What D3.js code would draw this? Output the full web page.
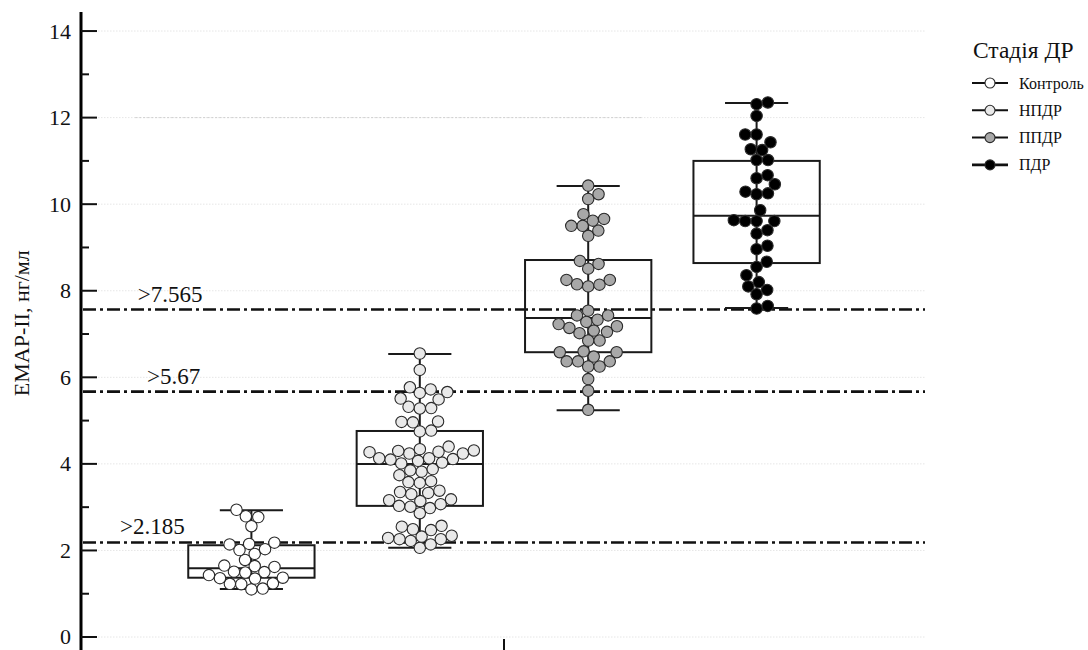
<!DOCTYPE html>
<html>
<head>
<meta charset="utf-8">
<script src="https://cdn.jsdelivr.net/npm/d3@7"></script>
<style>
  body { margin: 0; background: #fff; }
  svg { display: block; }
  svg text { font-family: "Times New Roman", "Liberation Serif"; }
</style>
</head>
<body>
<svg id="chart" width="1088" height="650" style="font-family: 'Times New Roman', 'Liberation Serif';"></svg>
<script>
// Stages of diabetic retinopathy
const stages = ["Контроль", "НПДР", "ППДР", "ПДР"];
const stageFill = ["#ffffff", "#e9e9e9", "#a8a8a8", "#000000"];

// EMAP-II per patient, ng/ml
const control = [2.94, 2.79, 2.77, 2.56, 2.18, 2.15, 2.14, 2.03, 2.01, 1.92, 1.78, 1.65, 1.64,
  1.62, 1.51, 1.50, 1.49, 1.43, 1.37, 1.36, 1.35, 1.24, 1.23, 1.22, 1.12, 1.10];
const npdr = [6.55, 6.17, 5.77, 5.72, 5.66, 5.64, 5.51, 5.49, 5.32, 5.29, 5.28, 4.98, 4.97, 4.96,
  4.77, 4.75, 4.40, 4.34, 4.31, 4.30, 4.28, 4.27, 4.24, 4.24, 4.13, 4.13, 4.11, 4.10, 4.07, 4.03,
  4.01, 3.88, 3.85, 3.82, 3.74, 3.60, 3.58, 3.56, 3.38, 3.35, 3.33, 3.30, 3.18, 3.16, 3.14, 3.07,
  3.03, 3.01, 2.98, 2.86, 2.57, 2.55, 2.49, 2.47, 2.34, 2.32, 2.29, 2.26, 2.26, 2.22, 2.14, 2.06];
const ppdr = [10.43, 10.23, 10.12, 9.77, 9.66, 9.62, 9.50, 9.50, 9.39, 9.27, 8.69, 8.62, 8.51,
  8.25, 8.25, 8.15, 8.14, 8.10, 7.54, 7.43, 7.43, 7.33, 7.28, 7.23, 7.18, 7.14, 7.08, 7.05, 7.02,
  6.85, 6.85, 6.60, 6.58, 6.58, 6.48, 6.37, 6.37, 6.37, 6.25, 6.25, 5.96, 5.69, 5.25];
const pdr = [12.35, 12.31, 12.04, 11.61, 11.61, 11.43, 11.27, 11.25, 11.02, 11.02, 10.67, 10.60,
  10.46, 10.29, 10.25, 10.23, 9.86, 9.63, 9.61, 9.61, 9.61, 9.40, 9.32, 9.04, 8.96, 8.67, 8.55,
  8.36, 8.20, 8.10, 8.02, 7.92, 7.65, 7.59];
const stageValues = [control, npdr, ppdr, pdr];

// Box statistics: whisker low, Q1, median, Q3, whisker high
const whiskerLow = [1.11, 2.06, 5.24, 7.60];
const q1 = [1.37, 3.03, 6.58, 8.64];
const median = [1.59, 4.00, 7.37, 9.73];
const q3 = [2.12, 4.76, 8.71, 11.00];
const whiskerHigh = [2.93, 6.54, 10.42, 12.34];

// Cut-off values
const cutoffs = [7.565, 5.67, 2.185];
const cutoffLabels = [">7.565", ">5.67", ">2.185"];
const cutoffLabelX = [-0.435, -0.424, -0.456];

const yTicks = [0, 2, 4, 6, 8, 10, 12, 14];
const yMinorTicks = [1, 3, 5, 7, 9, 11, 13];

const svg = d3.select("#chart");
const ink = "#111";
const serifFace = "\"Times New Roman\", \"Liberation Serif\"";
const label = sel => sel.style("font-family", serifFace).attr("fill", ink);

const x = d3.scaleLinear().domain([-0.5, 0.5]).range([83, 925]);
const y = d3.scaleLinear().domain([-0.3, 14.44]).range([650, 12]);
const hue = d3.scaleBand().domain(stages).range([x(-0.4), x(0.4)]);
const center = s => hue(s) + hue.bandwidth() / 2;
const boxW = hue.bandwidth() * 0.75;
const capW = hue.bandwidth() * 0.375;

// light dotted grid
svg.append("g").selectAll("line").data(yTicks).join("line")
  .attr("x1", x(-0.5)).attr("x2", x(0.5))
  .attr("y1", d => y(d)).attr("y2", d => y(d))
  .attr("stroke", "#e6e6e6").attr("stroke-width", 1).attr("stroke-dasharray", "1.5,1.5");
svg.append("line")
  .attr("x1", x(-0.438)).attr("x2", x(0.165))
  .attr("y1", y(12)).attr("y2", y(12))
  .attr("stroke", "#cfcfcf").attr("stroke-width", 1).attr("stroke-dasharray", "2,2");

// cut-off lines
svg.append("g").selectAll("line").data(cutoffs).join("line")
  .attr("x1", x(-0.5)).attr("x2", x(0.5))
  .attr("y1", d => y(d)).attr("y2", d => y(d))
  .attr("stroke", ink).attr("stroke-width", 2.6).attr("stroke-dasharray", "13,4,3,4");
svg.append("g").selectAll("text").data(cutoffs).join("text")
  .attr("x", (d, i) => x(cutoffLabelX[i]))
  .attr("y", d => y(d) - 8)
  .attr("font-size", 23).call(label)
  .text((d, i) => cutoffLabels[i]);

// boxes
const boxes = svg.append("g").selectAll("g").data(stages).join("g");
boxes.append("line")
  .attr("x1", s => center(s)).attr("x2", s => center(s))
  .attr("y1", (s, i) => y(whiskerLow[i])).attr("y2", (s, i) => y(whiskerHigh[i]))
  .attr("stroke", "#1a1a1a").attr("stroke-width", 2);
boxes.append("rect")
  .attr("x", s => center(s) - boxW / 2).attr("width", boxW)
  .attr("y", (s, i) => y(q3[i])).attr("height", (s, i) => y(q1[i]) - y(q3[i]))
  .attr("fill", "none").attr("stroke", "#1a1a1a").attr("stroke-width", 2);
boxes.append("line")
  .attr("x1", s => center(s) - boxW / 2).attr("x2", s => center(s) + boxW / 2)
  .attr("y1", (s, i) => y(median[i])).attr("y2", (s, i) => y(median[i]))
  .attr("stroke", "#1a1a1a").attr("stroke-width", 2);
[whiskerLow, whiskerHigh].forEach(arr => {
  boxes.append("line")
    .attr("x1", s => center(s) - capW / 2).attr("x2", s => center(s) + capW / 2)
    .attr("y1", (s, i) => y(arr[i])).attr("y2", (s, i) => y(arr[i]))
    .attr("stroke", "#1a1a1a").attr("stroke-width", 2);
});

// swarm placement: each point goes to the free spot nearest the centre line
function swarm(values, diam) {
  const pts = values.map(v => ({ v, py: y(v) })).sort((a, b) => a.v - b.v);
  const placed = [];
  for (const p of pts) {
    const near = placed.filter(q => Math.abs(q.py - p.py) < diam);
    const cands = [0];
    for (const q of near) {
      const dx = Math.sqrt(diam * diam - (q.py - p.py) ** 2);
      cands.push(q.dx + dx, q.dx - dx);
    }
    const order = cands.map((c, i) => [c, i]).sort((a, b) => Math.abs(a[0]) - Math.abs(b[0]) || a[1] - b[1]);
    for (const [c] of order) {
      if (near.every(q => (q.dx - c) ** 2 + (q.py - p.py) ** 2 >= diam * diam - 1e-6)) { p.dx = c; break; }
    }
    placed.push(p);
  }
  return placed;
}

const R = 5.7;
stages.forEach((s, i) => {
  const pts = swarm(stageValues[i], 11.4);
  svg.append("g").selectAll("circle").data(pts).join("circle")
    .attr("cx", d => center(s) + d.dx)
    .attr("cy", d => d.py)
    .attr("r", R)
    .attr("fill", stageFill[i])
    .attr("stroke", "#2a2a2a").attr("stroke-width", 1.1);
});

// y axis
const yAxis = svg.append("g");
yAxis.append("line").attr("x1", 81).attr("x2", 81).attr("y1", y(14.44)).attr("y2", y(-0.3))
  .attr("stroke", "#000").attr("stroke-width", 3);
yAxis.selectAll(".maj").data(yTicks).join("line").attr("class", "maj")
  .attr("x1", 81).attr("x2", 97).attr("y1", d => y(d)).attr("y2", d => y(d))
  .attr("stroke", ink).attr("stroke-width", 2);
yAxis.selectAll(".min").data(yMinorTicks).join("line").attr("class", "min")
  .attr("x1", 81).attr("x2", 89).attr("y1", d => y(d)).attr("y2", d => y(d))
  .attr("stroke", ink).attr("stroke-width", 2);
yAxis.selectAll("text").data(yTicks).join("text")
  .attr("x", 71).attr("y", d => y(d)).attr("dy", "0.34em")
  .attr("text-anchor", "end").attr("font-size", 22).call(label)
  .text(d => d);
svg.append("text")
  .attr("transform", `translate(29,${y(7.25)}) rotate(-90)`)
  .attr("text-anchor", "middle").attr("font-size", 22).call(label)
  .text("ЕМАР-ІІ, нг/мл");

// single x tick at the category centre
svg.append("line").attr("x1", x(0)).attr("x2", x(0)).attr("y1", 639).attr("y2", 650)
  .attr("stroke", ink).attr("stroke-width", 2);

// legend
const lg = svg.append("g").attr("transform", "translate(972,0)");
lg.append("text").attr("x", 1).attr("y", 58).attr("font-size", 23.5).call(label).text("Стадія ДР");
const rows = lg.selectAll(".row").data(stages).join("g").attr("class", "row")
  .attr("transform", (d, i) => `translate(0,${83 + i * 27.3})`);
rows.append("line").attr("x1", 0).attr("x2", 36).attr("y1", 0).attr("y2", 0)
  .attr("stroke", ink).attr("stroke-width", (d, i) => i === 3 ? 2.6 : 2);
rows.append("circle").attr("cx", 18).attr("r", 5)
  .attr("fill", (d, i) => stageFill[i]).attr("stroke", "#2a2a2a").attr("stroke-width", 1.1);
rows.append("text").attr("x", 47).attr("y", 5.5).attr("font-size", 16).call(label).text(d => d);
</script>
</body>
</html>
